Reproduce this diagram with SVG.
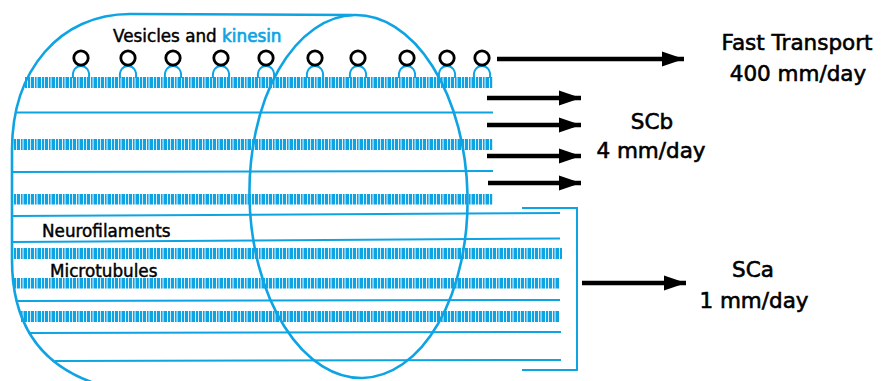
<svg xmlns="http://www.w3.org/2000/svg" width="883" height="381" viewBox="0 0 883 381">
  <defs>
    <!-- striped microtubule band: vertical bars with narrow gaps -->
    <pattern id="mt" patternUnits="userSpaceOnUse" x="0" y="0" width="14" height="20">
      <rect x="0" y="0" width="2.2" height="20" fill="#0ea4e4"/>
      <rect x="3" y="0" width="3" height="20" fill="#0ea4e4"/>
      <rect x="6.9" y="0" width="1.7" height="20" fill="#0ea4e4"/>
      <rect x="9.5" y="0" width="3.6" height="20" fill="#0ea4e4"/>
    </pattern>
    <marker id="head" markerUnits="userSpaceOnUse" markerWidth="24" markerHeight="18" refX="22" refY="9" orient="auto">
      <path d="M0,1.5 L22,9 L0,16.5 Z" fill="#000"/>
    </marker>
  </defs>
  <style>
    .outline { fill: none; stroke: #0ea4e4; stroke-width: 2.6; stroke-linecap: round; stroke-linejoin: round; }
    .nf { stroke: #0ea4e4; stroke-width: 2; fill: none; }
    .mt { fill: url(#mt); }
    .ves { fill: none; stroke: #000; stroke-width: 2.8; }
    .kin { fill: none; stroke: #0ea4e4; stroke-width: 2; }
    .arrow { stroke: #000; stroke-width: 4.5; fill: none; marker-end: url(#head); }
    .lbl { font-family: "DejaVu Sans", "Liberation Sans", sans-serif; fill: #000; stroke: #000; stroke-width: 0.45; }
    .big { font-size: 21.5px; text-anchor: middle; stroke-width: 0.6; }
    .small { font-size: 16.8px; }
    .blue { fill: #0ea4e4; stroke: #0ea4e4; stroke-width: 0.7; }
  </style>

  <!-- axon segment: outer wall -->
  <g id="axon-wall">
    <path class="outline" d="M352,15 L130,14 C60,14 12,70 12,150 L12,260 C12,330 45,375 120,390 L360,392"/>
  </g>

  <!-- neurofilaments (thin lines) -->
  <g id="neurofilaments">
    <line class="nf" x1="17" y1="112.5" x2="493" y2="112.5"/>
    <line class="nf" x1="13" y1="172" x2="493" y2="171"/>
    <line class="nf" x1="12" y1="216" x2="560" y2="213"/>
    <line class="nf" x1="12" y1="242" x2="560" y2="238.5"/>
    <line class="nf" x1="16" y1="301" x2="560" y2="300"/>
    <line class="nf" x1="28" y1="333" x2="561" y2="332"/>
    <line class="nf" x1="55" y1="361" x2="561" y2="360"/>
  </g>

  <!-- microtubules (striped bands) -->
  <g id="microtubules">
    <rect class="mt" x="25" y="77" width="468" height="11"/>
    <rect class="mt" x="11" y="139" width="482" height="11"/>
    <rect class="mt" x="11" y="194" width="482" height="10.5"/>
    <rect class="mt" x="11" y="248" width="551" height="11"/>
    <rect class="mt" x="13" y="278" width="546" height="10.5"/>
    <rect class="mt" x="21" y="311" width="538" height="11"/>
  </g>

  <!-- vesicles riding on kinesin motors -->
  <g id="vesicles">
    <g id="v1" transform="translate(81,0)"><path class="kin" d="M-8,78 C-9,70 -5,66 0,66 C5,66 9,70 8,78"/><circle class="ves" cx="0" cy="58" r="7.2"/></g>
    <g id="v2" transform="translate(128,0)"><path class="kin" d="M-8,78 C-9,70 -5,66 0,66 C5,66 9,70 8,78"/><circle class="ves" cx="0" cy="58" r="7.2"/></g>
    <g id="v3" transform="translate(173,0)"><path class="kin" d="M-8,78 C-9,70 -5,66 0,66 C5,66 9,70 8,78"/><circle class="ves" cx="0" cy="58" r="7.2"/></g>
    <g id="v4" transform="translate(221,0)"><path class="kin" d="M-8,78 C-9,70 -5,66 0,66 C5,66 9,70 8,78"/><circle class="ves" cx="0" cy="58" r="7.2"/></g>
    <g id="v5" transform="translate(266,0)"><path class="kin" d="M-8,78 C-9,70 -5,66 0,66 C5,66 9,70 8,78"/><circle class="ves" cx="0" cy="58" r="7.2"/></g>
    <g id="v6" transform="translate(315,0)"><path class="kin" d="M-8,78 C-9,70 -5,66 0,66 C5,66 9,70 8,78"/><circle class="ves" cx="0" cy="58" r="7.2"/></g>
    <g id="v7" transform="translate(358,0)"><path class="kin" d="M-8,78 C-9,70 -5,66 0,66 C5,66 9,70 8,78"/><circle class="ves" cx="0" cy="58" r="7.2"/></g>
    <g id="v8" transform="translate(407,0)"><path class="kin" d="M-8,78 C-9,70 -5,66 0,66 C5,66 9,70 8,78"/><circle class="ves" cx="0" cy="58" r="7.2"/></g>
    <g id="v9" transform="translate(447,0)"><path class="kin" d="M-8,78 C-9,70 -5,66 0,66 C5,66 9,70 8,78"/><circle class="ves" cx="0" cy="58" r="7.2"/></g>
    <g id="v10" transform="translate(482,0)"><path class="kin" d="M-8,78 C-9,70 -5,66 0,66 C5,66 9,70 8,78"/><circle class="ves" cx="0" cy="58" r="7.2"/></g>
  </g>

  <!-- cross-section of the axon -->
  <g id="cross-section">
    <ellipse class="outline" cx="358.5" cy="196.5" rx="109" ry="181.5" transform="rotate(-1.3 358.5 196.5)"/>
  </g>

  <!-- bracket grouping the slow component a -->
  <g id="sca-bracket">
    <path class="nf" d="M522,208 L577,208 L577,370 L522,370"/>
  </g>

  <!-- transport arrows -->
  <g id="connectors">
    <line class="arrow" x1="497" y1="59" x2="684" y2="59"/>
    <line class="arrow" x1="487" y1="98" x2="581" y2="98"/>
    <line class="arrow" x1="487" y1="125" x2="581" y2="125"/>
    <line class="arrow" x1="487" y1="156" x2="581" y2="156"/>
    <line class="arrow" x1="488" y1="183" x2="581" y2="183"/>
    <line class="arrow" x1="582" y1="283" x2="686" y2="283"/>
  </g>

  <!-- labels -->
  <g id="labels">
    <text class="lbl small" x="113" y="42">Vesicles and <tspan class="blue">kinesin</tspan></text>
    <text class="lbl small" x="42" y="237">Neurofilaments</text>
    <text class="lbl small" x="50" y="277">Microtubules</text>
    <text class="lbl big" x="797" y="50">Fast Transport</text>
    <text class="lbl big" x="798" y="81">400 mm/day</text>
    <text class="lbl big" x="652" y="129">SCb</text>
    <text class="lbl big" x="651" y="158">4 mm/day</text>
    <text class="lbl big" x="753" y="277">SCa</text>
    <text class="lbl big" x="754" y="308">1 mm/day</text>
  </g>
</svg>
